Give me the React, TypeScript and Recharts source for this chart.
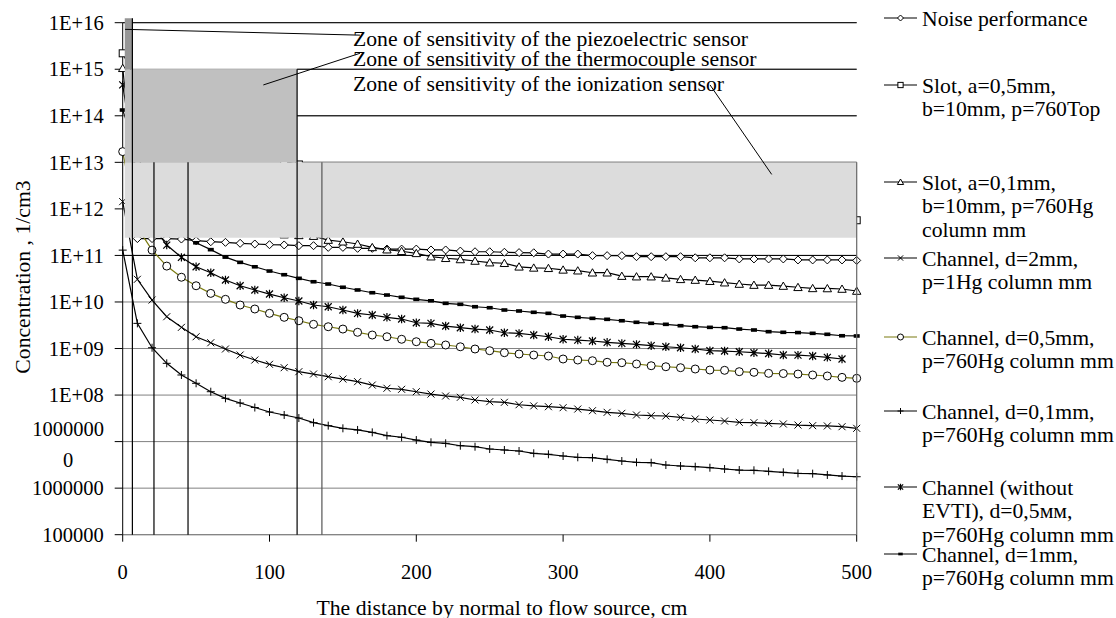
import React from 'react';
import {
  LineChart,
  Line,
  XAxis,
  YAxis,
  CartesianGrid,
  ReferenceArea,
  ReferenceLine,
  Legend,
  Customized,
} from 'recharts';

const FONT = '"Liberation Serif", "Times New Roman", Times, serif';

// distance by normal to flow source, cm
const distance = [
  0, 10, 20, 30, 40, 50, 60, 70, 80, 90, 100, 110, 120, 130, 140, 150, 160, 170, 180, 190, 200,
  210, 220, 230, 240, 250, 260, 270, 280, 290, 300, 310, 320, 330, 340, 350, 360, 370, 380, 390,
  400, 410, 420, 430, 440, 450, 460, 470, 480, 490, 500,
];

// concentration, 1/cm3
const noise = [
  null, 2.3e11, 2.3e11, 2.3e11, 2.25e11, 2.07e11, 1.97e11, 1.91e11, 1.82e11, 1.76e11, 1.7e11,
  1.68e11, 1.62e11, 1.62e11, 1.49e11, 1.49e11, 1.42e11, 1.42e11, 1.37e11, 1.37e11, 1.37e11,
  1.31e11, 1.31e11, 1.24e11, 1.2e11, 1.2e11, 1.17e11, 1.15e11, 1.14e11, 1.07e11, 1.07e11,
  1.07e11, 9.9e10, 9.9e10, 9.9e10, 9.4e10, 9.4e10, 9.4e10, 9.4e10, 8.9e10, 8.9e10, 8.9e10,
  8.4e10, 8.4e10, 8.4e10, 8.4e10, 8.0e10, 8.0e10, 8.0e10, 8.0e10, 7.8e10,
];
const slot05 = [
  2.2e15, 5e14, 2.5e14, 1.2e14, 7e13, 4.5e13, 3.2e13, 2.4e13, 1.9e13, 1.5e13, 1.25e13, 1.05e13,
  9e12, 7.7e12, 6.6e12, 5.8e12, 5.1e12, 4.5e12, 4e12, 3.6e12, 3.25e12, 2.95e12, 2.7e12, 2.45e12,
  2.25e12, 2.08e12, 1.92e12, 1.78e12, 1.66e12, 1.58e12, 1.5e12, 1.4e12, 1.32e12, 1.24e12,
  1.17e12, 1.11e12, 1.05e12, 1e12, 9.5e11, 9e11, 8.6e11, 8.3e11, 8e11, 7.6e11, 7.3e11, 7e11,
  6.7e11, 6.4e11, 6.2e11, 5.9e11, 5.7e11,
];
const slot01 = [
  1.05e15, 1.5e12, 9e11, 7e11, 6e11, 5e11, 4.5e11, 4e11, 3.6e11, 3.3e11, 3e11, 2.8e11, 2.7e11,
  2.6e11, 2.14e11, 1.97e11, 1.76e11, 1.49e11, 1.33e11, 1.23e11, 1.11e11, 9.4e10, 8.7e10, 8.2e10,
  7.6e10, 7.0e10, 6.8e10, 5.7e10, 5.4e10, 5.3e10, 4.9e10, 4.7e10, 4.25e10, 4.25e10, 3.6e10,
  3.5e10, 3.5e10, 3.3e10, 3.07e10, 2.96e10, 2.8e10, 2.6e10, 2.43e10, 2.31e10, 2.31e10, 2.2e10,
  2.07e10, 1.96e10, 1.95e10, 1.9e10, 1.72e10,
];
const channel2 = [
  1.43e12, 3.07e10, 1.1e10, 4.82e9, 2.85e9, 1.79e9, 1.33e9, 9.76e8, 7.25e8, 5.66e8, 4.58e8,
  3.87e8, 3.18e8, 2.83e8, 2.48e8, 2.21e8, 1.94e8, 1.64e8, 1.4e8, 1.33e8, 1.18e8, 1.05e8, 9.55e7,
  8.95e7, 7.84e7, 7.2e7, 6.99e7, 6.2e7, 5.85e7, 5.62e7, 5.35e7, 5.01e7, 4.61e7, 4.26e7, 4.05e7,
  3.73e7, 3.6e7, 3.55e7, 3.33e7, 3.06e7, 2.91e7, 2.77e7, 2.6e7, 2.55e7, 2.47e7, 2.39e7, 2.27e7,
  2.2e7, 2.17e7, 2.09e7, 1.93e7,
];
const channel05 = [
  1.7e13, 4e11, 1.3e11, 5.9e10, 3.4e10, 2.23e10, 1.53e10, 1.14e10, 8.6e9, 7.06e9, 5.7e9, 4.68e9,
  3.95e9, 3.31e9, 2.94e9, 2.62e9, 2.23e9, 1.95e9, 1.79e9, 1.58e9, 1.4e9, 1.29e9, 1.19e9, 1.09e9,
  9.76e8, 8.97e8, 8.13e8, 7.62e8, 7.25e8, 6.9e8, 5.95e8, 5.66e8, 5.47e8, 5.06e8, 4.96e8, 4.65e8,
  4.27e8, 4.06e8, 3.87e8, 3.63e8, 3.45e8, 3.4e8, 3.18e8, 3.08e8, 2.93e8, 2.9e8, 2.83e8, 2.7e8,
  2.57e8, 2.4e8, 2.29e8,
];
const channel01 = [
  1.3e11, 3.47e9, 1.04e9, 4.81e8, 2.7e8, 1.79e8, 1.18e8, 8.51e7, 6.75e7, 5.4e7, 4.33e7, 3.73e7,
  3.21e7, 2.55e7, 2.2e7, 1.93e7, 1.78e7, 1.58e7, 1.34e7, 1.24e7, 1.08e7, 9.66e6, 9.19e6, 8.16e6,
  7.77e6, 6.93e6, 6.6e6, 6.28e6, 5.61e6, 5.34e6, 4.91e6, 4.6e6, 4.51e6, 4.17e6, 3.83e6, 3.59e6,
  3.52e6, 3.14e6, 2.99e6, 2.89e6, 2.75e6, 2.58e6, 2.45e6, 2.42e6, 2.3e6, 2.19e6, 2.08e6, 2.05e6,
  1.92e6, 1.82e6, 1.76e6,
];
const noEvti = [
  4.6e14, 4e12, 4.5e11, 1.67e11, 9.1e10, 5.7e10, 4.25e10, 2.96e10, 2.23e10, 1.81e10, 1.48e10,
  1.23e10, 1.05e10, 8.6e9, 7.9e9, 6.72e9, 5.7e9, 5.25e9, 4.68e9, 4.3e9, 3.58e9, 3.48e9, 3.04e9,
  2.8e9, 2.62e9, 2.5e9, 2.18e9, 2.12e9, 1.95e9, 1.79e9, 1.58e9, 1.52e9, 1.45e9, 1.36e9, 1.29e9,
  1.23e9, 1.15e9, 1.09e9, 1.04e9, 9.76e8, 8.97e8, 8.83e8, 8.53e8, 8.13e8, 7.8e8, 7.25e8, 7.2e8,
  6.9e8, 6.46e8, 5.95e8, null,
];
const channel1 = [
  1.33e14, 1.5e13, 2e12, 6e11, 3e11, 1.87e11, 1.33e11, 9.2e10, 7.1e10, 5.7e10, 4.62e10, 3.85e10,
  3.22e10, 2.72e10, 2.43e10, 2.07e10, 1.81e10, 1.58e10, 1.41e10, 1.26e10, 1.14e10, 1.06e10,
  9.35e9, 8.9e9, 7.9e9, 7.52e9, 6.72e9, 6.4e9, 6.0e9, 5.7e9, 4.99e9, 4.68e9, 4.45e9, 4.24e9,
  3.95e9, 3.66e9, 3.48e9, 3.31e9, 3.09e9, 2.94e9, 2.85e9, 2.8e9, 2.62e9, 2.5e9, 2.3e9, 2.23e9,
  2.2e9, 2.12e9, 2.02e9, 1.88e9, 1.86e9,
];

const xTicks = [0, 100, 200, 300, 400, 500];
const yTicks = [1e5, 1e6, 1e7, 1e8, 1e9, 1e10, 1e11, 1e12, 1e13, 1e14, 1e15, 1e16];
const yTickLabels = [
  '100000', '1000000', '10000000', '1E+08', '1E+09', '1E+10', '1E+11', '1E+12', '1E+13',
  '1E+14', '1E+15', '1E+16',
];

// sensitivity zones of the sensors
const zones = [
  { key: 'ionization', x1: 1.4, x2: 500, y1: 2.4e11, y2: 1e13, fill: '#dcdcdc' },
  { key: 'thermocouple', x1: 1.4, x2: 118.8, y1: 1e13, y2: 1e15, fill: '#c0c0c0' },
  { key: 'piezo', x1: 1.4, x2: 6.6, y1: 1e15, y2: 1.24e16, fill: '#969696' },
];
const zoneEdges = [
  { x: 6.6, top: 1.24e16, color: '#000' },
  { x: 21.3, top: 1e13, color: '#000' },
  { x: 44.5, top: 1e13, color: '#000' },
  { x: 118.8, top: 1e15, color: '#000' },
  { x: 135.7, top: 1e13, color: '#555' },
  { x: 500, top: 1e13, color: '#666' },
];
const darkRules = [
  { y: 1e16, x1: 0, x2: 500 },
  { y: 1e15, x1: 118.8, x2: 500 },
  { y: 1e14, x1: 118.8, x2: 500 },
  { y: 1e13, x1: 118.8, x2: 500 },
  { y: 1e11, x1: 0, x2: 500 },
];
const notes = [
  { text: 'Zone of sensitivity of the piezoelectric sensor', y: 38, from: [1.6, 7.2e15], to: [161.6, 5.4e15] },
  { text: 'Zone of sensitivity of the thermocouple sensor', y: 58, from: [95.8, 4.6e14], to: [161.6, 2.2e15] },
  { text: 'Zone of sensitivity of the ionization sensor', y: 83, from: [400.1, 4.6e14], to: [442.1, 5.5e12] },
];

type Shape = 'diamond' | 'square' | 'triangle' | 'cross' | 'circle' | 'plus' | 'star' | 'bar';

const series: { key: string; shape: Shape; color: string; label: string[]; legendY: number }[] = [
  { key: 'noise', shape: 'diamond', color: '#000', label: ['Noise performance'], legendY: 18 },
  { key: 'slot05', shape: 'square', color: '#000', label: ['Slot, a=0,5mm,', 'b=10mm, p=760Top'], legendY: 85 },
  { key: 'slot01', shape: 'triangle', color: '#000', label: ['Slot, a=0,1mm,', 'b=10mm, p=760Hg', 'column mm'], legendY: 182 },
  { key: 'channel2', shape: 'cross', color: '#000', label: ['Channel, d=2mm,', 'p=1Hg column mm'], legendY: 258 },
  { key: 'channel05', shape: 'circle', color: '#7a7a10', label: ['Channel, d=0,5mm,', 'p=760Hg column mm'], legendY: 337 },
  { key: 'channel01', shape: 'plus', color: '#000', label: ['Channel, d=0,1mm,', 'p=760Hg column mm'], legendY: 411 },
  { key: 'noEvti', shape: 'star', color: '#000', label: ['Channel (without', 'EVTI), d=0,5мм,', 'p=760Hg column mm'], legendY: 487 },
  { key: 'channel1', shape: 'bar', color: '#000', label: ['Channel, d=1mm,', 'p=760Hg column mm'], legendY: 554 },
];

const Marker = ({ shape, cx, cy, s = 1 }: { shape: Shape; cx: number; cy: number; s?: number }) => {
  const k = (v: number) => v * s;
  switch (shape) {
    case 'diamond':
      return <path d={`M${cx},${cy - k(4)}L${cx + k(4)},${cy}L${cx},${cy + k(4)}L${cx - k(4)},${cy}Z`} fill="#fff" stroke="#000" />;
    case 'square':
      return <rect x={cx - k(3.5)} y={cy - k(3.5)} width={k(7)} height={k(7)} fill="#fff" stroke="#000" />;
    case 'triangle':
      return <path d={`M${cx},${cy - k(4)}L${cx + k(4.2)},${cy + k(3.3)}L${cx - k(4.2)},${cy + k(3.3)}Z`} fill="#fff" stroke="#000" />;
    case 'cross':
      return <path d={`M${cx - k(3.5)},${cy - k(3.5)}L${cx + k(3.5)},${cy + k(3.5)}M${cx - k(3.5)},${cy + k(3.5)}L${cx + k(3.5)},${cy - k(3.5)}`} stroke="#000" />;
    case 'circle':
      return <circle cx={cx} cy={cy} r={k(4)} fill="#fff" stroke="#000" />;
    case 'plus':
      return <path d={`M${cx - k(4)},${cy}H${cx + k(4)}M${cx},${cy - k(4)}V${cy + k(4)}`} stroke="#000" />;
    case 'star':
      return (
        <path
          d={`M${cx - k(3.5)},${cy - k(3.5)}L${cx + k(3.5)},${cy + k(3.5)}M${cx - k(3.5)},${cy + k(3.5)}L${cx + k(3.5)},${cy - k(3.5)}M${cx},${cy - k(4.2)}V${cy + k(4.2)}`}
          stroke="#000"
          strokeWidth={1.2}
        />
      );
    default:
      return <rect x={cx - k(3)} y={cy - k(1.8)} width={k(6)} height={k(3.6)} fill="#000" />;
  }
};

const makeDot = (shape: Shape) => (p: any) => {
  const key = `${shape}-${p.index}`;
  if (p.value == null || !Number.isFinite(p.cx) || !Number.isFinite(p.cy)) return <g key={key} />;
  return (
    <g key={key}>
      <Marker shape={shape} cx={p.cx} cy={p.cy} />
    </g>
  );
};

const XTick = ({ x, y, payload }: any) => (
  <text x={x} y={y + 28} dy="0.35em" textAnchor="middle" fontFamily={FONT} fontSize={20.5} fill="#000">
    {payload.value}
  </text>
);

const YTick = ({ x, y, payload }: any) => {
  const label = yTickLabels[yTicks.indexOf(payload.value)] ?? '';
  if (label.length > 7) {
    // long label wraps onto two lines, like the original
    return (
      <g fontFamily={FONT} fontSize={20.5} fill="#000">
        <text x={x - 35.5} y={y - 12.6} dy="0.35em" textAnchor="middle">{label.slice(0, 7)}</text>
        <text x={x - 35.5} y={y + 18.4} dy="0.35em" textAnchor="middle">{label.slice(7)}</text>
      </g>
    );
  }
  return (
    <text x={x} y={y} dy="0.35em" textAnchor="end" fontFamily={FONT} fontSize={20.5} fill="#000">
      {label}
    </text>
  );
};

const LegendBox = () => (
  <svg width={236} height={618} style={{ display: 'block' }}>
    {series.map((s) => (
      <g key={s.key}>
        <line x1={4} x2={37} y1={s.legendY} y2={s.legendY} stroke={s.color} strokeWidth={1.2} />
        <Marker shape={s.shape} cx={20.5} cy={s.legendY} s={0.75} />
        <text x={42} y={s.legendY} fontFamily={FONT} fontSize={21.7} fill="#000">
          {s.label.map((t, i) => (
            <tspan key={i} x={42} dy={i === 0 ? '0.35em' : 23.8}>
              {t}
            </tspan>
          ))}
        </text>
      </g>
    ))}
  </svg>
);

const Titles = () => (
  <g fontFamily={FONT} fontSize={21.7} fill="#000">
    {notes.map((n) => (
      <text key={n.text} x={353} y={n.y} dy="0.35em">
        {n.text}
      </text>
    ))}
    <text x={502} y={607} dy="0.35em" textAnchor="middle">
      The distance by normal to flow source, cm
    </text>
    <text transform="translate(22,277) rotate(-90)" dy="0.35em" textAnchor="middle">
      Concentration , 1/cm3
    </text>
  </g>
);

const CHART_W = 1116;
const CHART_H = 618;
// plot box: left 122.7, right 856.7, top 22.7, bottom 534.7
const PLOT = { top: 22.7, right: 259.3, bottom: 83.3, left: 122.7 };

export default function App() {
  const rows = distance.map((d, i) => ({
    d,
    noise: noise[i],
    slot05: slot05[i],
    slot01: slot01[i],
    channel2: channel2[i],
    channel05: channel05[i],
    channel01: channel01[i],
    noEvti: noEvti[i],
    channel1: channel1[i],
  }));

  return (
    <div style={{ position: 'absolute', left: 0, top: 0, width: CHART_W, height: CHART_H, background: '#fff' }}>
      {/* curves, grid and axes */}
      <div style={{ position: 'absolute', left: 0, top: 0 }}>
        <LineChart
          width={CHART_W}
          height={CHART_H}
          data={rows}
          margin={{ top: PLOT.top, right: PLOT.right - 236, bottom: PLOT.bottom - 40, left: PLOT.left - 100 }}
        >
          <CartesianGrid vertical={false} stroke="#808080" strokeWidth={1} />
          <XAxis
            type="number"
            dataKey="d"
            domain={[0, 500]}
            ticks={xTicks}
            interval={0}
            height={40}
            tickSize={7}
            axisLine={{ stroke: '#808080' }}
            tickLine={{ stroke: '#000' }}
            tick={<XTick />}
          />
          <YAxis
            type="number"
            scale="log"
            domain={[1e5, 1e16]}
            ticks={yTicks}
            interval={0}
            width={100}
            tickSize={8}
            tickMargin={11}
            axisLine={{ stroke: '#000' }}
            tickLine={{ stroke: '#000' }}
            tick={<YTick />}
          />
          {darkRules.map((r) => (
            <ReferenceLine
              key={`rule-${r.y}`}
              segment={[{ x: r.x1, y: r.y }, { x: r.x2, y: r.y }]}
              stroke="#000"
              strokeWidth={1}
              ifOverflow="visible"
            />
          ))}
          {series.map((s) => (
            <Line
              key={s.key}
              dataKey={s.key}
              name={s.label.join(' ')}
              type="linear"
              stroke={s.color}
              strokeWidth={1.2}
              dot={makeDot(s.shape)}
              activeDot={false}
              isAnimationActive={false}
            />
          ))}
          <Customized component={Titles} />
          <Legend
            layout="vertical"
            align="right"
            verticalAlign="top"
            wrapperStyle={{ left: 880, top: 0, width: 236, height: 618 }}
            content={() => <LegendBox />}
          />
        </LineChart>
      </div>
      {/* sensor zones lie over the curves, so they sit in a second chart on top with the same scales */}
      <div style={{ position: 'absolute', left: 0, top: 0, pointerEvents: 'none' }}>
        <LineChart width={CHART_W} height={CHART_H} data={rows} margin={PLOT}>
          <XAxis hide type="number" dataKey="d" domain={[0, 500]} allowDataOverflow />
          <YAxis hide type="number" scale="log" domain={[1e5, 1e16]} allowDataOverflow />
          {/* invisible carrier series so the overlay gets the same axis domains */}
          <Line dataKey="channel01" stroke="none" dot={false} activeDot={false} isAnimationActive={false} />
          {zones.map((z) => (
            <ReferenceArea
              key={z.key}
              x1={z.x1}
              x2={z.x2}
              y1={z.y1}
              y2={z.y2}
              fill={z.fill}
              fillOpacity={1}
              stroke="none"
              ifOverflow="visible"
            />
          ))}
          {zoneEdges.map((e) => (
            <ReferenceLine
              key={`edge-${e.x}`}
              segment={[{ x: e.x, y: 1e5 }, { x: e.x, y: e.top }]}
              stroke={e.color}
              strokeWidth={1.2}
              ifOverflow="visible"
            />
          ))}
          {notes.map((n) => (
            <ReferenceLine
              key={`lead-${n.y}`}
              segment={[{ x: n.from[0], y: n.from[1] }, { x: n.to[0], y: n.to[1] }]}
              stroke="#000"
              strokeWidth={1}
              ifOverflow="visible"
            />
          ))}
        </LineChart>
      </div>
    </div>
  );
}
